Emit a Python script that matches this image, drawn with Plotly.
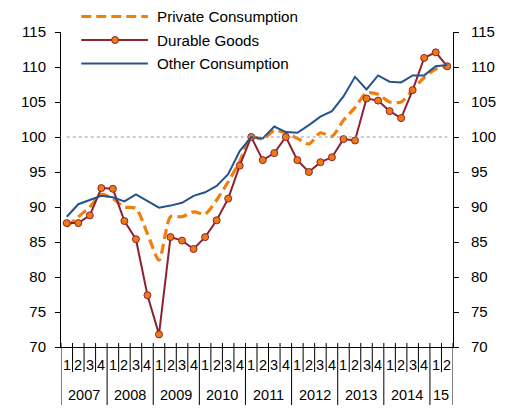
import plotly.graph_objects as go

quarters = ["1","2","3","4"]*8 + ["1","2"]
years = ["2007","2008","2009","2010","2011","2012","2013","2014","15"]
year_lengths = [4,4,4,4,4,4,4,4,2]

private_consumption = [87.2, 88.6, 90.0, 91.8, 91.2, 90.0, 89.8, 86.2, 82.4, 88.6,
                       88.6, 89.3, 89.0, 91.0, 93.6, 96.5, 100.0, 99.7, 100.9, 100.6,
                       99.8, 99.0, 100.6, 100.1, 102.4, 104.2, 106.3, 106.1, 105.0, 105.0,
                       106.7, 108.5, 109.7, 110.1]
durable_goods = [87.7, 87.7, 88.8, 92.7, 92.6, 88.0, 85.4, 77.4, 71.8, 85.7,
                 85.2, 84.0, 85.7, 88.1, 91.2, 95.9, 100.0, 96.7, 97.7, 100.0,
                 96.7, 95.0, 96.4, 97.1, 99.7, 99.5, 105.5, 105.2, 103.7, 102.7,
                 106.7, 111.3, 112.1, 110.1]
other_consumption = [88.6, 90.4, 91.0, 91.6, 91.4, 90.8, 91.8, 90.9, 89.9, 90.2,
                     90.6, 91.6, 92.1, 93.0, 94.7, 98.0, 100.0, 99.8, 101.5, 100.7,
                     100.6, 101.7, 102.9, 103.7, 105.8, 108.6, 106.8, 108.8, 107.9, 107.8,
                     108.8, 108.8, 110.1, 110.3]

ORANGE = "#F27F0C"
MAROON = "#8E2233"
BLUE = "#24538E"
FONT = "Liberation Sans, Arial, sans-serif"

n = len(quarters)
xs = list(range(n))

fig = go.Figure()
fig.add_trace(go.Scatter(x=xs, y=private_consumption, mode="lines",
                         line=dict(color=ORANGE, width=3.2, dash="10px,5px", shape="spline", smoothing=0.7),
                         name="Private Consumption", showlegend=False))
fig.add_trace(go.Scatter(x=xs, y=durable_goods, mode="lines+markers",
                         line=dict(color=MAROON, width=2),
                         marker=dict(size=7, color="#EE7A12", line=dict(color=MAROON, width=1)),
                         name="Durable Goods", showlegend=False))
fig.add_trace(go.Scatter(x=xs, y=other_consumption, mode="lines",
                         line=dict(color=BLUE, width=2),
                         name="Other Consumption", showlegend=False))
# invisible trace to activate right axis
fig.add_trace(go.Scatter(x=xs, y=other_consumption, mode="lines", yaxis="y2",
                         line=dict(width=0), opacity=0, hoverinfo="skip", showlegend=False))

# page has an 8px body margin: figure is placed at (8, 8) in the window
OFF = 8
PAGE_W, PAGE_H = 508, 409
PL, PR, PT, PB = 61, 467, 32, 347   # plot area in window pixels
W, H = PAGE_W - OFF, PAGE_H - OFF
L, T = PL - OFF, PT - OFF
R, B = PAGE_W - PR, PAGE_H - PB
pw = PR - PL
ph = PB - PT

def px_x(x):
    return (x - PL) / pw

def px_y(y):
    return (PB - y) / ph

shapes = []
shapes.append(dict(type="line", xref="x", yref="y", x0=0, x1=n-1, y0=100, y1=100,
                   line=dict(color="#9A9A9A", width=1, dash="dot")))
year_bounds = [0]
for l in year_lengths:
    year_bounds.append(year_bounds[-1] + l)
for b in range(n + 1):
    is_year = b in year_bounds
    shapes.append(dict(type="line", xref="x", yref="paper", x0=b-0.5, x1=b-0.5,
                       y0=px_y(343), y1=px_y(405 if is_year else 372),
                       line=dict(color="#000000", width=1)))

annotations = []
for i, q in enumerate(quarters):
    annotations.append(dict(x=i, y=px_y(365), xref="x", yref="paper", text=q, showarrow=False,
                            font=dict(family=FONT, size=14.5, color="#000"), xanchor="center", yanchor="middle"))
for k, yname in enumerate(years):
    center = (year_bounds[k] + year_bounds[k+1] - 1) / 2
    annotations.append(dict(x=center, y=px_y(395), xref="x", yref="paper", text=yname, showarrow=False,
                            font=dict(family=FONT, size=14.5, color="#000"), xanchor="center", yanchor="middle"))

leg = [("Private Consumption", 16.5, ORANGE, "dash"),
       ("Durable Goods", 40.0, MAROON, "marker"),
       ("Other Consumption", 63.5, BLUE, "solid")]
for label, yy, col, kind in leg:
    if kind == "dash":
        shapes.append(dict(type="line", xref="paper", yref="paper", x0=px_x(82), x1=px_x(151),
                           y0=px_y(yy), y1=px_y(yy), line=dict(color=ORANGE, width=3.2, dash="10px,5px")))
    else:
        shapes.append(dict(type="line", xref="paper", yref="paper", x0=px_x(82), x1=px_x(151),
                           y0=px_y(yy), y1=px_y(yy), line=dict(color=col, width=2)))
    if kind == "marker":
        shapes.append(dict(type="circle", xref="paper", yref="paper", xsizemode="pixel", ysizemode="pixel",
                           xanchor=px_x(117), yanchor=px_y(yy), x0=-3.5, x1=3.5, y0=-3.5, y1=3.5,
                           fillcolor="#EE7A12", line=dict(color=MAROON, width=1)))
    annotations.append(dict(x=px_x(158), y=px_y(yy), xref="paper", yref="paper", text=label,
                            showarrow=False, xanchor="left", yanchor="middle",
                            font=dict(family=FONT, size=15.2, color="#000")))

yaxis_common = dict(range=[70, 115], dtick=5, tick0=70, showgrid=False, zeroline=False,
                    showline=True, linecolor="#000", linewidth=1, ticks="outside", ticklen=5,
                    tickcolor="#000", tickfont=dict(family=FONT, size=15, color="#000"))

fig.update_layout(
    width=W, height=H,
    margin=dict(l=L, r=R, t=T, b=B, pad=0),
    paper_bgcolor="white", plot_bgcolor="white",
    showlegend=False,
    xaxis=dict(range=[-0.5, n-0.5], showgrid=False, zeroline=False, showline=True,
               linecolor="#000", linewidth=1, showticklabels=False, ticks=""),
    yaxis=dict(**yaxis_common, side="left", ticklabelstandoff=6),
    yaxis2=dict(**yaxis_common, side="right", overlaying="y", ticklabelstandoff=9),
    shapes=shapes,
    annotations=annotations,
)

fig.write_html("out.html")
